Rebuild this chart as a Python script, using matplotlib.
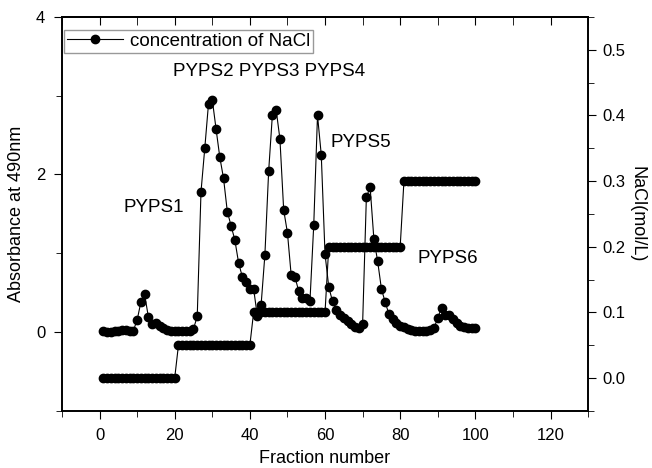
import matplotlib
matplotlib.use("Agg")
import matplotlib.pyplot as plt
from matplotlib.ticker import MultipleLocator

fraction = list(range(1, 101))
absorbance = [
    0.01, 0.00, 0.00, 0.01, 0.02, 0.03, 0.03, 0.01, 0.02, 0.15,
    0.38, 0.48, 0.19, 0.10, 0.12, 0.08, 0.05, 0.03, 0.02, 0.02,
    0.02, 0.02, 0.02, 0.02, 0.04, 0.20, 1.78, 2.33, 2.90, 2.95,
    2.58, 2.22, 1.95, 1.53, 1.35, 1.17, 0.88, 0.70, 0.63, 0.55,
    0.55, 0.20, 0.35, 0.98, 2.04, 2.76, 2.82, 2.45, 1.55, 1.26,
    0.72, 0.70, 0.52, 0.43, 0.43, 0.40, 1.36, 2.75, 2.25, 0.99,
    0.57, 0.39, 0.28, 0.22, 0.18, 0.14, 0.10, 0.07, 0.05, 0.10,
    1.71, 1.84, 1.18, 0.90, 0.55, 0.38, 0.23, 0.16, 0.11, 0.08,
    0.06, 0.04, 0.03, 0.02, 0.02, 0.02, 0.02, 0.03, 0.05, 0.18,
    0.31, 0.22, 0.22, 0.17, 0.12, 0.08, 0.06, 0.05, 0.05, 0.05,
]
nacl = [0.0] * 20 + [0.05] * 20 + [0.1] * 20 + [0.2] * 20 + [0.3] * 20

peak_labels = ["PYPS1", "PYPS2 PYPS3 PYPS4", "PYPS5", "PYPS6"]
peak_pos = [(6.5, 1.58), (19.5, 3.31), (61.5, 2.40), (84.5, 0.94)]

plt.rcParams['font.family'] = ['Liberation Sans', 'DejaVu Sans']

fig = plt.figure(figsize=(6.52, 4.68), dpi=100)
ax = fig.add_axes([0.095, 0.122, 0.807, 0.842])
ax2 = ax.twinx()

ax.plot(fraction, absorbance, '-o', color='black', lw=0.8, ms=6)
ax2.plot(fraction, nacl, '-o', color='black', lw=0.8, ms=6,
         label='concentration of NaCl')

ax.set_xlim(-10, 130)
ax.set_ylim(-1, 4)
ax2.set_ylim(-0.05, 0.55)

ax.xaxis.set_major_locator(MultipleLocator(20))
ax.xaxis.set_minor_locator(MultipleLocator(10))
ax.yaxis.set_major_locator(MultipleLocator(2))
ax.yaxis.set_minor_locator(MultipleLocator(1))
ax2.yaxis.set_major_locator(MultipleLocator(0.1))
ax2.yaxis.set_minor_locator(MultipleLocator(0.05))

# bottom ticks point out, top ticks point in
ax.tick_params(axis='x', which='both', direction='out', labelsize=12, pad=6)
ax.tick_params(axis='x', which='major', length=6)
ax.tick_params(axis='x', which='minor', length=4)
ax.tick_params(axis='y', which='major', length=6, labelsize=12, pad=6)
ax.tick_params(axis='y', which='minor', length=4)
ax2.tick_params(axis='y', which='major', length=6, labelsize=12, pad=4)
ax2.tick_params(axis='y', which='minor', length=4)

top = ax.secondary_xaxis('top')
top.xaxis.set_major_locator(MultipleLocator(20))
top.xaxis.set_minor_locator(MultipleLocator(10))
top.tick_params(axis='x', which='both', direction='in', labeltop=False)
top.tick_params(axis='x', which='major', length=6)
top.tick_params(axis='x', which='minor', length=6)

for s in list(ax.spines.values()) + list(ax2.spines.values()):
    s.set_linewidth(1.2)
top.spines['top'].set_linewidth(1.2)

ax.set_xlabel('Fraction number', fontsize=13, labelpad=5)
ax.set_ylabel('Absorbance at 490nm', fontsize=13, labelpad=8)
ax2.set_ylabel('NaCl(mol/L)', fontsize=13, rotation=270, labelpad=15)

for txt, (x, y) in zip(peak_labels, peak_pos):
    ax.text(x, y, txt, fontsize=13.5, ha='left', va='center')

leg = ax2.legend(loc='upper left', bbox_to_anchor=(0.0, 0.972),
                 fontsize=13.5, frameon=True, fancybox=False,
                 borderaxespad=0.1, handlelength=3.0, handletextpad=0.4,
                 borderpad=0.15)
leg.get_frame().set_edgecolor('gray')
leg.get_frame().set_linewidth(1.0)

fig.savefig('out.png', dpi=100)
